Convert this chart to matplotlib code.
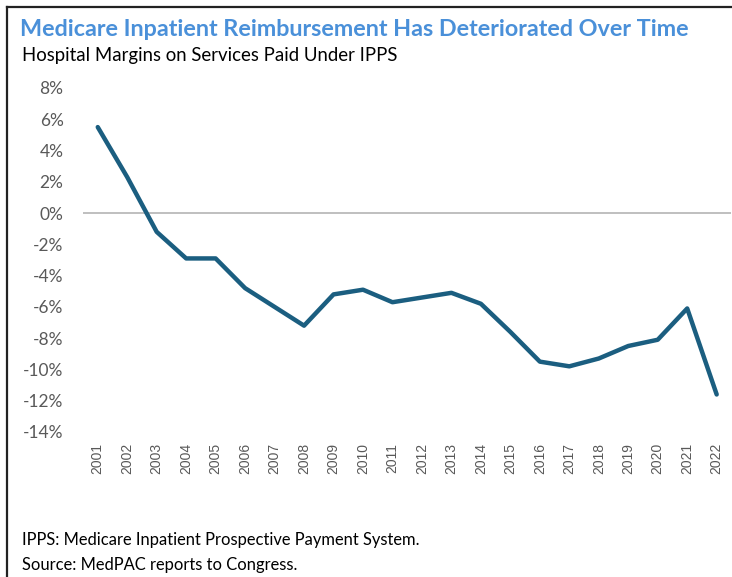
import matplotlib.pyplot as plt
from matplotlib.lines import Line2D

years = [str(y) for y in range(2001, 2023)]
margins = [5.5, 2.3, -1.2, -2.9, -2.9, -4.8, -6.0, -7.2, -5.2, -4.9, -5.7,
           -5.4, -5.1, -5.8, -7.6, -9.5, -9.8, -9.3, -8.5, -8.1, -6.1, -11.6]
y_ticks = list(range(8, -15, -2))

title = "Medicare Inpatient Reimbursement Has Deteriorated Over Time"
subtitle = "Hospital Margins on Services Paid Under IPPS"
notes = ["IPPS: Medicare Inpatient Prospective Payment System.",
         "Source: MedPAC reports to Congress."]

fig = plt.figure(figsize=(7.32, 5.77), dpi=100)
ax = fig.add_axes([0.1134, 0.2513, 0.8858, 0.5962])

x = range(len(years))
ax.axhline(0, color="#BFBFBF", lw=1.4, zorder=1)
ax.plot(x, margins, color="#1B5E80", lw=3.2, solid_joinstyle="round",
        solid_capstyle="round", zorder=2)

ax.set_xlim(-0.5, len(years) - 0.5)
ax.set_ylim(-14, 8)
ax.set_yticks(y_ticks)
ax.set_yticklabels([f"{t}%" for t in y_ticks], fontfamily="Lato",
                   fontsize=12.5, color="#595959")
ax.set_xticks(list(x))
ax.set_xticklabels(years, rotation=90, fontsize=10, color="#595959",
                   fontfamily="Liberation Sans", va="top")
ax.tick_params(length=0, axis="both")
ax.tick_params(axis="y", pad=14)
ax.tick_params(axis="x", pad=8)
for s in ax.spines.values():
    s.set_visible(False)

fig.text(20 / 732, 1 - 30 / 577, title, fontfamily="Lato", fontweight="bold",
         fontsize=16.8, color="#4A90D9", va="center", ha="left")
fig.text(22 / 732, 1 - 55 / 577, subtitle, fontfamily="Lato", fontsize=13.4,
         color="black", va="center", ha="left")
fig.text(22 / 732, 1 - 540 / 577, notes[0], fontfamily="Lato", fontsize=11.9,
         color="black", va="center", ha="left")
fig.text(22 / 732, 1 - 565 / 577, notes[1], fontfamily="Lato", fontsize=11.9,
         color="black", va="center", ha="left")

# frame edges visible in the screenshot
fig.add_artist(Line2D([7 / 732, 1], [1 - 7 / 577, 1 - 7 / 577],
                      color="#222222", lw=1.6, transform=fig.transFigure))
fig.add_artist(Line2D([7 / 732, 7 / 732], [0, 1 - 7 / 577],
                      color="#222222", lw=1.6, transform=fig.transFigure))

fig.savefig("out.png", dpi=100)
